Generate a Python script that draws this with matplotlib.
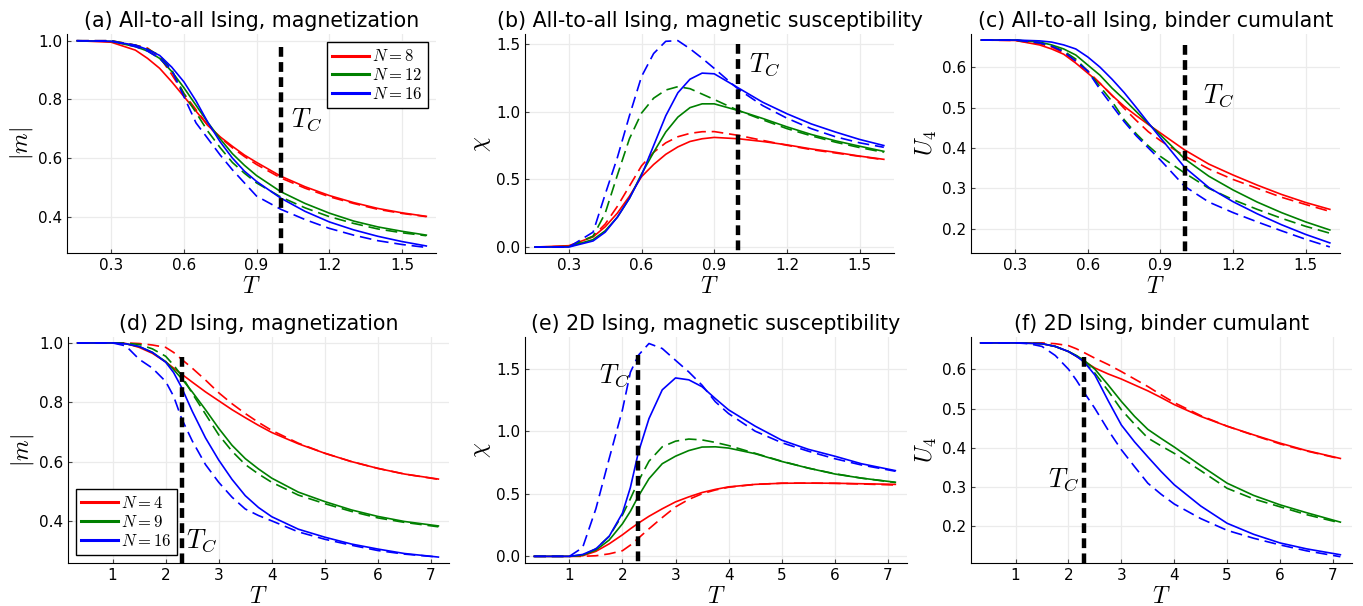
import matplotlib
matplotlib.use("Agg")
import matplotlib.pyplot as plt

plt.rcParams["mathtext.fontset"] = "cm"
plt.rcParams["font.family"] = "DejaVu Sans"

# ---- data ----
# all-to-all panels share one temperature grid
T_ata = [0.16, 0.3, 0.4, 0.45, 0.5, 0.55, 0.6, 0.65, 0.7, 0.75, 0.8, 0.85, 0.9, 1.0, 1.1, 1.2, 1.3, 1.4, 1.5, 1.6]
# 2D panels share another
T_2d = [0.34, 1.0, 1.25, 1.5, 1.75, 2.0, 2.15, 2.3, 2.5, 2.75, 3.0, 3.25, 3.5, 3.75, 4.0, 4.5, 5.0, 5.5, 6.0, 6.5, 7.14]

sizes_ata = [8, 12, 16]
sizes_2d = [4, 9, 16]
Tc_ata = 1.0
Tc_2d = 2.3

# (a) magnetization, all-to-all : solid / dashed per size
a_solid = [
    [1.0, 0.995, 0.968, 0.94, 0.906, 0.86, 0.81, 0.76, 0.71, 0.672, 0.64, 0.61, 0.585, 0.538, 0.502, 0.472, 0.448, 0.428, 0.413, 0.401],
    [1.0, 0.998, 0.98, 0.965, 0.94, 0.895, 0.84, 0.78, 0.72, 0.665, 0.615, 0.575, 0.54, 0.485, 0.445, 0.412, 0.385, 0.365, 0.35, 0.337],
    [1.0, 0.998, 0.985, 0.97, 0.95, 0.91, 0.86, 0.795, 0.72, 0.655, 0.60, 0.555, 0.52, 0.463, 0.418, 0.382, 0.355, 0.333, 0.315, 0.30],
]
a_dashed = [
    [1.0, 1.0, 0.985, 0.975, 0.945, 0.885, 0.82, 0.765, 0.71, 0.67, 0.635, 0.605, 0.578, 0.532, 0.497, 0.468, 0.445, 0.425, 0.411, 0.40],
    [1.0, 1.0, 0.985, 0.972, 0.95, 0.9, 0.82, 0.755, 0.69, 0.635, 0.585, 0.548, 0.515, 0.467, 0.43, 0.40, 0.377, 0.358, 0.345, 0.335],
    [1.0, 1.0, 0.98, 0.965, 0.94, 0.9, 0.81, 0.72, 0.665, 0.61, 0.56, 0.515, 0.47, 0.425, 0.39, 0.36, 0.337, 0.318, 0.305, 0.295],
]

# (b) susceptibility, all-to-all
b_solid = [
    [0.0, 0.01, 0.075, 0.15, 0.25, 0.375, 0.52, 0.61, 0.685, 0.74, 0.78, 0.80, 0.81, 0.80, 0.78, 0.755, 0.725, 0.70, 0.672, 0.648],
    [0.0, 0.003, 0.055, 0.12, 0.22, 0.36, 0.54, 0.7, 0.85, 0.96, 1.03, 1.058, 1.058, 1.008, 0.95, 0.888, 0.832, 0.785, 0.745, 0.707],
    [0.0, 0.0, 0.045, 0.11, 0.22, 0.36, 0.53, 0.75, 0.97, 1.14, 1.24, 1.285, 1.28, 1.175, 1.07, 0.985, 0.91, 0.85, 0.795, 0.75],
]
b_dashed = [
    [0.0, 0.005, 0.08, 0.17, 0.3, 0.45, 0.6, 0.7, 0.77, 0.815, 0.84, 0.852, 0.853, 0.825, 0.788, 0.752, 0.72, 0.695, 0.67, 0.645],
    [0.0, 0.003, 0.08, 0.25, 0.53, 0.8, 0.99, 1.1, 1.16, 1.185, 1.17, 1.13, 1.09, 1.008, 0.94, 0.875, 0.822, 0.775, 0.735, 0.70],
    [0.0, 0.0, 0.11, 0.39, 0.66, 0.97, 1.26, 1.43, 1.52, 1.525, 1.465, 1.395, 1.32, 1.165, 1.045, 0.952, 0.875, 0.815, 0.77, 0.737],
]

# (c) binder cumulant, all-to-all
c_solid = [
    [0.667, 0.666, 0.655, 0.645, 0.632, 0.61, 0.585, 0.56, 0.53, 0.503, 0.48, 0.458, 0.437, 0.395, 0.36, 0.333, 0.308, 0.285, 0.265, 0.248],
    [0.667, 0.667, 0.662, 0.655, 0.645, 0.63, 0.605, 0.58, 0.548, 0.52, 0.49, 0.46, 0.432, 0.373, 0.33, 0.296, 0.266, 0.24, 0.217, 0.197],
    [0.667, 0.667, 0.665, 0.662, 0.655, 0.645, 0.625, 0.6, 0.57, 0.537, 0.5, 0.462, 0.425, 0.352, 0.302, 0.267, 0.237, 0.21, 0.186, 0.165],
]
c_dashed = [
    [0.667, 0.666, 0.658, 0.65, 0.635, 0.615, 0.59, 0.56, 0.53, 0.498, 0.468, 0.44, 0.418, 0.38, 0.348, 0.322, 0.3, 0.278, 0.26, 0.243],
    [0.667, 0.667, 0.66, 0.652, 0.64, 0.62, 0.59, 0.552, 0.515, 0.47, 0.435, 0.405, 0.379, 0.338, 0.3, 0.272, 0.248, 0.226, 0.206, 0.189],
    [0.667, 0.667, 0.66, 0.652, 0.638, 0.615, 0.59, 0.545, 0.505, 0.465, 0.43, 0.4, 0.37, 0.305, 0.266, 0.24, 0.217, 0.195, 0.174, 0.155],
]

# (d) magnetization, 2D
d_solid = [
    [1.0, 1.0, 0.998, 0.985, 0.965, 0.936, 0.915, 0.895, 0.868, 0.835, 0.805, 0.775, 0.748, 0.722, 0.698, 0.66, 0.628, 0.6, 0.577, 0.558, 0.541],
    [1.0, 1.0, 0.997, 0.988, 0.968, 0.937, 0.91, 0.88, 0.835, 0.775, 0.712, 0.655, 0.61, 0.575, 0.544, 0.497, 0.465, 0.437, 0.415, 0.398, 0.383],
    [1.0, 1.0, 0.997, 0.988, 0.968, 0.935, 0.9, 0.85, 0.77, 0.68, 0.605, 0.54, 0.485, 0.445, 0.414, 0.372, 0.345, 0.322, 0.305, 0.29, 0.278],
]
d_dashed = [
    [1.0, 1.0, 1.0, 0.998, 0.993, 0.985, 0.968, 0.945, 0.915, 0.875, 0.832, 0.795, 0.762, 0.732, 0.705, 0.662, 0.628, 0.6, 0.577, 0.558, 0.54],
    [1.0, 1.0, 0.999, 0.995, 0.98, 0.955, 0.925, 0.89, 0.83, 0.76, 0.69, 0.635, 0.59, 0.558, 0.53, 0.487, 0.458, 0.432, 0.41, 0.395, 0.38],
    [1.0, 1.0, 0.99, 0.945, 0.915, 0.87, 0.82, 0.745, 0.67, 0.59, 0.53, 0.48, 0.44, 0.418, 0.4, 0.363, 0.338, 0.318, 0.3, 0.288, 0.278],
]

# (e) susceptibility, 2D
e_solid = [
    [0.0, 0.0, 0.005, 0.04, 0.1, 0.172, 0.22, 0.265, 0.32, 0.38, 0.435, 0.475, 0.51, 0.535, 0.555, 0.575, 0.584, 0.585, 0.584, 0.58, 0.575],
    [0.0, 0.0, 0.01, 0.05, 0.13, 0.26, 0.36, 0.48, 0.62, 0.74, 0.8, 0.845, 0.873, 0.875, 0.865, 0.82, 0.758, 0.705, 0.658, 0.625, 0.592],
    [0.0, 0.0, 0.015, 0.06, 0.16, 0.345, 0.55, 0.83, 1.1, 1.33, 1.425, 1.41, 1.355, 1.26, 1.17, 1.04, 0.928, 0.855, 0.8, 0.74, 0.685],
]
e_dashed = [
    [0.0, 0.0, 0.0, 0.005, 0.02, 0.045, 0.09, 0.145, 0.22, 0.31, 0.395, 0.455, 0.5, 0.53, 0.552, 0.575, 0.584, 0.585, 0.583, 0.578, 0.57],
    [0.0, 0.0, 0.01, 0.06, 0.16, 0.33, 0.46, 0.6, 0.76, 0.875, 0.92, 0.937, 0.93, 0.91, 0.885, 0.823, 0.76, 0.705, 0.66, 0.625, 0.59],
    [0.0, 0.0, 0.07, 0.38, 0.78, 1.17, 1.47, 1.606, 1.70, 1.66, 1.566, 1.473, 1.367, 1.235, 1.14, 1.0, 0.908, 0.84, 0.78, 0.73, 0.68],
]

# (f) binder cumulant, 2D
f_solid = [
    [0.667, 0.667, 0.667, 0.665, 0.658, 0.645, 0.633, 0.62, 0.603, 0.588, 0.575, 0.56, 0.545, 0.528, 0.51, 0.48, 0.455, 0.433, 0.412, 0.393, 0.373],
    [0.667, 0.667, 0.666, 0.665, 0.658, 0.645, 0.635, 0.622, 0.6, 0.56, 0.518, 0.48, 0.447, 0.424, 0.402, 0.355, 0.31, 0.279, 0.255, 0.235, 0.211],
    [0.667, 0.667, 0.666, 0.665, 0.658, 0.645, 0.633, 0.618, 0.585, 0.52, 0.458, 0.415, 0.377, 0.34, 0.306, 0.252, 0.208, 0.18, 0.158, 0.143, 0.128],
]
f_dashed = [
    [0.667, 0.667, 0.667, 0.667, 0.665, 0.66, 0.652, 0.642, 0.628, 0.612, 0.594, 0.575, 0.556, 0.535, 0.515, 0.482, 0.455, 0.432, 0.41, 0.392, 0.372],
    [0.667, 0.667, 0.666, 0.665, 0.658, 0.645, 0.633, 0.618, 0.59, 0.545, 0.497, 0.46, 0.425, 0.405, 0.386, 0.342, 0.297, 0.27, 0.25, 0.23, 0.209],
    [0.667, 0.667, 0.665, 0.658, 0.635, 0.6, 0.572, 0.54, 0.5, 0.445, 0.395, 0.352, 0.31, 0.282, 0.257, 0.22, 0.19, 0.17, 0.153, 0.138, 0.123],
]

colors = ["#ff0000", "#008000", "#0000ff"]

fig = plt.figure(figsize=(13.63, 6.06), dpi=100)
W, H = 1363, 606


def add_ax(l, t, r, b):
    return fig.add_axes([l / W, 1 - b / H, (r - l) / W, (b - t) / H])


def draw(ax, T, solid, dashed, sizes, title, ylabel, xlim, ylim, xticks, yticks,
         tc, tc_span, tc_text, legend_loc=None):
    for i in range(3):
        ax.plot(T, solid[i], color=colors[i], lw=1.2, label=r"$N = %d$" % sizes[i])
        ax.plot(T, dashed[i], color=colors[i], lw=1.2, dashes=(7, 3.5))
    ax.plot([tc, tc], tc_span, color="black", lw=3.2, dashes=(2.2, 1.2))
    ax.text(tc_text[0], tc_text[1], r"$T_C$", fontsize=19, va="center", ha="left")
    ax.set_xlim(*xlim)
    ax.set_ylim(*ylim)
    ax.set_xticks(xticks)
    ax.set_yticks(yticks)
    ax.set_title(title, fontsize=14.8, pad=5)
    ax.set_xlabel(r"$T$", fontsize=17, labelpad=1)
    ax.set_ylabel(ylabel, fontsize=17, labelpad=2)
    ax.grid(True, color="#ebebeb", lw=0.9)
    ax.set_axisbelow(True)
    for s in ["top", "right"]:
        ax.spines[s].set_visible(False)
    ax.tick_params(labelsize=11, length=3, direction="in", color="#444444")
    if legend_loc is not None:
        leg = ax.legend(loc=legend_loc, fontsize=12, handlelength=2.2, fancybox=False,
                        edgecolor="black", framealpha=1, borderpad=0.3,
                        labelspacing=0.05, handletextpad=0.2, borderaxespad=0.5)
        leg.get_frame().set_linewidth(1.0)
        for h in leg.get_lines():
            h.set_linewidth(2.2)


xt_ata = [0.3, 0.6, 0.9, 1.2, 1.5]
xt_2d = [1, 2, 3, 4, 5, 6, 7]

ax = add_ax(67, 34, 436, 253)
draw(ax, T_ata, a_solid, a_dashed, sizes_ata, "(a) All-to-all Ising, magnetization", r"$|m|$",
     (0.118, 1.64), (0.276, 1.023), xt_ata, [0.4, 0.6, 0.8, 1.0],
     Tc_ata, [0.98, 0.2], (1.04, 0.73), legend_loc="upper right")

ax = add_ax(525, 34, 894, 253)
draw(ax, T_ata, b_solid, b_dashed, sizes_ata, "(b) All-to-all Ising, magnetic susceptibility", r"$\chi$",
     (0.119, 1.642), (-0.044, 1.574), xt_ata, [0.0, 0.5, 1.0, 1.5],
     Tc_ata, [1.5, -0.1], (1.045, 1.35))

ax = add_ax(971, 34, 1340, 253)
draw(ax, T_ata, c_solid, c_dashed, sizes_ata, "(c) All-to-all Ising, binder cumulant", r"$U_4$",
     (0.117, 1.642), (0.14, 0.682), xt_ata, [0.2, 0.3, 0.4, 0.5, 0.6],
     Tc_ata, [0.655, 0.1], (1.075, 0.53))

ax = add_ax(68, 337, 449, 563)
draw(ax, T_2d, d_solid, d_dashed, sizes_2d, "(d) 2D Ising, magnetization", r"$|m|$",
     (0.159, 7.34), (0.258, 1.02), xt_2d, [0.4, 0.6, 0.8, 1.0],
     Tc_2d, [0.953, 0.2], (2.38, 0.335), legend_loc="lower left")

ax = add_ax(525, 337, 907, 563)
draw(ax, T_2d, e_solid, e_dashed, sizes_2d, "(e) 2D Ising, magnetic susceptibility", r"$\chi$",
     (0.165, 7.36), (-0.053, 1.752), xt_2d, [0.0, 0.5, 1.0, 1.5],
     Tc_2d, [1.606, -0.1], (1.55, 1.447))

ax = add_ax(971, 337, 1352, 563)
draw(ax, T_2d, f_solid, f_dashed, sizes_2d, "(f) 2D Ising, binder cumulant", r"$U_4$",
     (0.157, 7.36), (0.107, 0.682), xt_2d, [0.2, 0.3, 0.4, 0.5, 0.6],
     Tc_2d, [0.631, 0.05], (1.62, 0.318))

fig.savefig("out.png", dpi=100)
